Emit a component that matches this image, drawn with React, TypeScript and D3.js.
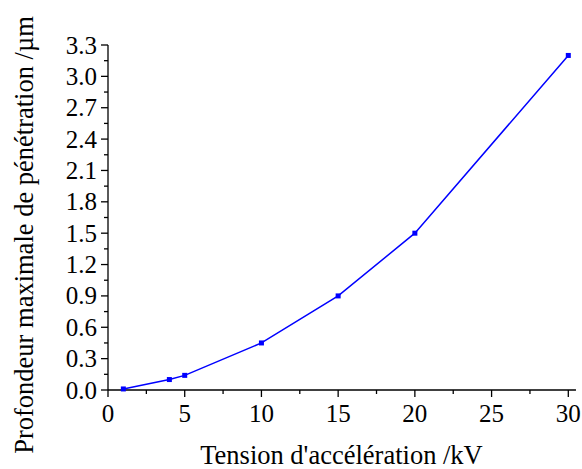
import React from "react";
import * as d3 from "d3";

const voltages = [1, 4, 5, 10, 15, 20, 30];
const depths = [0.01, 0.1, 0.14, 0.45, 0.9, 1.5, 3.2];
const xTicks = [0, 5, 10, 15, 20, 25, 30];
const yTicks = [0, 0.3, 0.6, 0.9, 1.2, 1.5, 1.8, 2.1, 2.4, 2.7, 3.0, 3.3];
const xLabel = "Tension d'accélération /kV";
const yLabel = "Profondeur maximale de pénétration /µm";

export default function App() {
  const W = 582, H = 469;
  const x = d3.scaleLinear().domain([0, 30]).range([108, 568.3]);
  const y = d3.scaleLinear().domain([0, 3.3]).range([390, 45]);
  const xEnd = x(30.5);
  const xMinor = d3.range(0, 31, 2.5).filter((v) => !xTicks.includes(v));
  const yMinor = d3.range(0.15, 3.3, 0.3);
  const line = d3
    .line<number>()
    .x((_, i) => x(voltages[i]))
    .y((d) => y(d));
  const font = "Liberation Serif";
  return (
    <svg
      width={W}
      height={H}
      style={{ position: "absolute", left: 0, top: 0, fontFamily: font }}
    >
      <rect width={W} height={H} fill="#fff" />
      <line x1={x(0)} x2={xEnd} y1={y(0)} y2={y(0)} stroke="#000" strokeWidth={1.3} />
      <line x1={x(0)} x2={x(0)} y1={y(0)} y2={y(3.3)} stroke="#000" strokeWidth={1.3} />
      {xTicks.map((t) => (
        <g key={"xt" + t}>
          <line x1={x(t)} x2={x(t)} y1={y(0)} y2={y(0) + 7} stroke="#000" strokeWidth={1.3} />
          <text x={x(t)} y={y(0) + 32} textAnchor="middle" fontSize={25} style={{ fontFamily: font }}>
            {t}
          </text>
        </g>
      ))}
      {xMinor.map((t) => (
        <line key={"xm" + t} x1={x(t)} x2={x(t)} y1={y(0)} y2={y(0) + 4} stroke="#000" strokeWidth={1.3} />
      ))}
      {yTicks.map((t) => (
        <g key={"yt" + t}>
          <line x1={x(0) - 7} x2={x(0)} y1={y(t)} y2={y(t)} stroke="#000" strokeWidth={1.3} />
          <text x={x(0) - 11} y={y(t) + 8.5} textAnchor="end" fontSize={25} style={{ fontFamily: font }}>
            {t.toFixed(1)}
          </text>
        </g>
      ))}
      {yMinor.map((t) => (
        <line key={"ym" + t} x1={x(0) - 4} x2={x(0)} y1={y(t)} y2={y(t)} stroke="#000" strokeWidth={1.3} />
      ))}
      <path d={line(depths) || ""} fill="none" stroke="#0000ff" strokeWidth={1.5} />
      {depths.map((d, i) => (
        <rect key={"p" + i} x={x(voltages[i]) - 2.5} y={y(d) - 2.5} width={5} height={5} fill="#0000ff" />
      ))}
      <text x={341.5} y={464} textAnchor="middle" fontSize={26.5} style={{ fontFamily: font }}>
        {xLabel}
      </text>
      <text
        transform={`translate(33, 235) rotate(-90)`}
        textAnchor="middle"
        fontSize={26.5}
        style={{ fontFamily: font }}
      >
        {yLabel}
      </text>
    </svg>
  );
}
